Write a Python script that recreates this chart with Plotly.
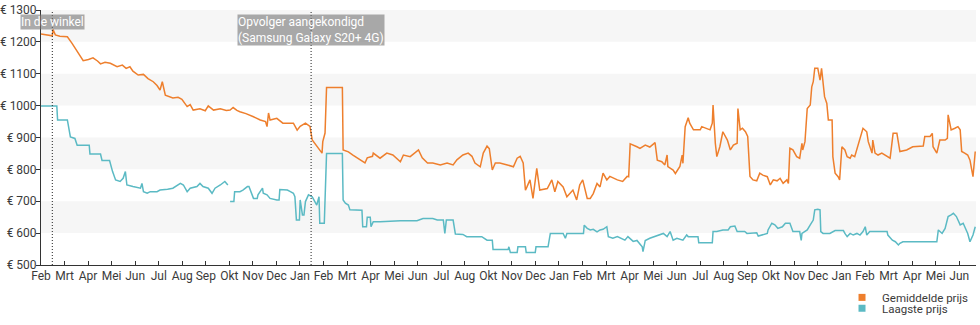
import pandas as pd
import plotly.graph_objects as go

# Time axis: day offsets are counted from this date
START = pd.Timestamp("2020-02-16")
TICK_STEP_DAYS = 31.25
RANGE_DAYS = 1241

tick_labels = [
    "Feb", "Mrt", "Apr", "Mei", "Jun", "Jul", "Aug", "Sep", "Okt", "Nov", "Dec", "Jan",
    "Feb", "Mrt", "Apr", "Mei", "Jun", "Jul", "Aug", "Okt", "Nov", "Dec", "Jan",
    "Feb", "Mrt", "Apr", "Mei", "Jun", "Jul", "Aug", "Sep", "Okt", "Nov", "Dec", "Jan",
    "Feb", "Mrt", "Apr", "Mei", "Jun",
]
price_ticks = [500, 600, 700, 800, 900, 1000, 1100, 1200, 1300]
price_tick_labels = ["€ 500", "€ 600", "€ 700", "€ 800", "€ 900", "€ 1000", "€ 1100", "€ 1200", "€ 1300"]

# Gemiddelde prijs (average price)
avg_days = [
    0, 8, 15, 16, 19, 25, 35, 41, 49, 56, 63, 69, 75, 79, 85, 92, 101, 108, 113, 118,
    122, 129, 136, 142, 149, 154, 158, 161, 165, 171, 175, 182, 187, 194, 198, 202, 211, 218, 222, 229,
    238, 246, 251, 255, 260, 264, 272, 282, 291, 298, 300, 302, 304, 313, 321, 328, 335, 340, 344, 351,
    357, 360, 365, 370, 373, 374, 377, 379, 400, 401, 408, 414, 424, 430, 433, 440, 441, 450, 459, 467,
    477, 481, 490, 497, 501, 506, 513, 520, 530, 539, 547, 552, 560, 567, 572, 576, 583, 587, 592, 595,
    599, 603, 609, 619, 627, 632, 636, 640, 643, 645, 649, 653, 656, 658, 662, 672, 678, 682, 686, 693,
    698, 702, 706, 711, 715, 719, 725, 729, 733, 738, 742, 746, 751, 755, 765, 772, 778, 780, 782, 791,
    795, 802, 808, 815, 818, 824, 828, 831, 832, 839, 842, 848, 851, 852, 855, 859, 861, 866, 875, 877,
    884, 888, 891, 892, 895, 897, 901, 905, 911, 915, 919, 924, 925, 928, 931, 935, 938, 941, 945, 950,
    954, 958, 964, 968, 972, 977, 981, 985, 990, 992, 994, 998, 1003, 1007, 1010, 1011, 1014, 1017, 1021, 1023,
    1025, 1027, 1031, 1034, 1036, 1038, 1040, 1043, 1045, 1050, 1051, 1054, 1058, 1060, 1063, 1067, 1070, 1074, 1076, 1080,
    1083, 1087, 1091, 1096, 1098, 1103, 1104, 1107, 1111, 1116, 1120, 1127, 1131, 1136, 1140, 1149, 1157, 1171, 1173, 1180,
    1183, 1184, 1189, 1193, 1200, 1203, 1204, 1208, 1213, 1217, 1220, 1222, 1226, 1230, 1233, 1237, 1240,
]
avg_price = [
    1225, 1222, 1219, 1239, 1222, 1218, 1216, 1196, 1165, 1141, 1145, 1150, 1140, 1131, 1136, 1133, 1122, 1127, 1117, 1122,
    1108, 1096, 1098, 1085, 1075, 1063, 1049, 1075, 1033, 1028, 1024, 1026, 1020, 997, 1003, 986, 990, 984, 999, 986,
    990, 985, 986, 994, 985, 981, 975, 965, 955, 950, 934, 977, 955, 960, 945, 945, 945, 923, 935, 945,
    935, 892, 875, 860, 851, 887, 914, 1057, 1057, 861, 855, 845, 829, 820, 836, 841, 851, 835, 851, 845,
    824, 845, 840, 855, 861, 836, 820, 820, 814, 820, 814, 830, 845, 851, 841, 820, 808, 851, 873, 865,
    798, 820, 820, 814, 808, 835, 841, 820, 735, 745, 767, 709, 767, 803, 735, 740, 767, 730, 762, 745,
    714, 724, 735, 704, 751, 767, 709, 709, 724, 756, 745, 788, 767, 778, 767, 762, 778, 777, 880, 871,
    866, 876, 870, 884, 829, 824, 814, 845, 809, 798, 787, 809, 845, 819, 934, 962, 945, 924, 924, 934,
    929, 924, 945, 1002, 882, 840, 871, 918, 892, 861, 876, 882, 991, 924, 929, 918, 903, 778, 767, 764,
    788, 782, 777, 751, 767, 764, 772, 756, 767, 756, 866, 861, 840, 835, 882, 861, 887, 991, 1002, 1059,
    1075, 1117, 1117, 1080, 1117, 1075, 1028, 1007, 955, 955, 840, 788, 777, 767, 871, 861, 840, 835, 845, 840,
    866, 892, 929, 918, 887, 851, 892, 851, 845, 851, 845, 835, 913, 913, 856, 861, 871, 873, 903, 903,
    913, 871, 851, 892, 892, 897, 971, 924, 929, 934, 924, 856, 851, 845, 829, 777, 856,
]

# Laagste prijs (lowest price); None marks a gap in the record
low_days = [
    0, 21, 22, 35, 39, 45, 48, 64, 65, 79, 81, 91, 95, 99, 105, 109, 112, 114, 122, 132,
    134, 136, 141, 145, 154, 158, 168, 175, 185, 189, 194, 198, 207, 211, 215, 222, 227, 231, 238, 244,
    248, 249, 251, 256, 257, 264, 268, 274, 276, 282, 287, 288, 294, 295, 300, 304, 313, 316, 317, 327,
    331, 335, 337, 339, 343, 344, 347, 349, 351, 355, 360, 364, 366, 369, 370, 376, 377, 379, 400, 401,
    404, 408, 410, 426, 427, 432, 433, 437, 438, 441, 450, 477, 499, 507, 520, 526, 534, 536, 538, 547,
    550, 560, 565, 585, 592, 599, 600, 620, 621, 623, 632, 633, 643, 644, 656, 657, 673, 676, 693, 696,
    698, 720, 721, 725, 729, 733, 738, 742, 746, 751, 753, 759, 765, 769, 775, 779, 786, 791, 798, 799,
    802, 808, 815, 822, 826, 831, 835, 839, 844, 852, 857, 859, 872, 873, 891, 892, 897, 905, 912, 915,
    921, 924, 934, 937, 950, 952, 958, 964, 965, 970, 974, 978, 984, 988, 994, 998, 1007, 1009, 1010, 1014,
    1017, 1021, 1025, 1027, 1031, 1034, 1035, 1038, 1047, 1054, 1065, 1067, 1070, 1074, 1078, 1083, 1087, 1091, 1094, 1096,
    1100, 1123, 1124, 1130, 1134, 1138, 1140, 1144, 1189, 1191, 1196, 1200, 1204, 1208, 1211, 1215, 1217, 1220, 1224, 1226,
    1230, 1233, 1237, 1240,
]
low_price = [
    999, 999, 955, 955, 902, 897, 876, 876, 848, 848, 828, 828, 793, 767, 762, 772, 793, 751, 746, 741,
    756, 730, 725, 730, 730, 735, 738, 741, 756, 751, 730, 741, 746, 756, 746, 741, 725, 741, 751, 762,
    751, None, 699, 699, 730, 730, 735, 746, 746, 709, 709, 720, 741, 725, 720, 709, 704, 704, 737, 735,
    730, 725, 714, 641, 641, 704, 657, 657, 699, 720, 714, 699, 688, 714, 631, 631, 724, 850, 850, 704,
    694, 688, 673, 672, 620, 620, 650, 650, 620, 636, 636, 639, 639, 646, 646, 641, 641, 599, 641, 641,
    597, 596, 589, 589, 578, 578, 549, 549, 557, 539, 539, 557, 557, 539, 539, 557, 557, 599, 599, 584,
    599, 599, 625, 615, 610, 612, 604, 610, 612, 620, 589, 584, 589, 584, 578, 589, 574, 577, 557, 542,
    577, 584, 589, 594, 599, 589, 605, 578, 584, 578, 594, 589, 589, 570, 570, 605, 605, 610, 610, 620,
    622, 605, 605, 599, 601, 591, 594, 599, 610, 631, 626, 615, 620, 631, 631, 605, 605, 577, 599, 605,
    610, 626, 641, 673, 675, 673, 605, 599, 599, 608, 608, 599, 589, 599, 594, 599, 594, 605, 620, 594,
    605, 605, 594, 578, 573, 563, 568, 573, 573, 610, 599, 615, 652, 657, 662, 652, 641, 626, 631, 620,
    599, 573, 594, 620,
]

# Product events drawn as dotted markers
event_days = [15, 358.5]
event_labels = ["In de winkel", "Opvolger aangekondigd<br>(Samsung Galaxy S20+ 4G)"]
event_label_y = [0.951, 0.9235]

ORANGE = "#ee7f2d"
TEAL = "#5bbac4"
FONT = "Roboto"
TEXT = "#3a3a3a"


def to_dates(days):
    return [START + pd.Timedelta(days=d) for d in days]


fig = go.Figure()

fig.add_trace(go.Scatter(
    x=to_dates(avg_days), y=avg_price, mode="lines",
    line=dict(color=ORANGE, width=1.5), name="Gemiddelde prijs", showlegend=False,
))
fig.add_trace(go.Scatter(
    x=to_dates(low_days), y=low_price, mode="lines", connectgaps=False,
    line=dict(color=TEAL, width=1.5), name="Laagste prijs", showlegend=False,
))

# Square swatches for the legend
fig.add_trace(go.Scatter(
    x=[None], y=[None], mode="markers", name="Gemiddelde prijs",
    marker=dict(symbol="square", size=7, color=ORANGE), legend="legend",
))
fig.add_trace(go.Scatter(
    x=[None], y=[None], mode="markers", name="Laagste prijs",
    marker=dict(symbol="square", size=7, color=TEAL), legend="legend2",
))

# Alternating horizontal bands
shapes = []
for lo in (600, 800, 1000, 1200):
    shapes.append(dict(
        type="rect", xref="paper", x0=0, x1=1, yref="y", y0=lo, y1=lo + 100,
        fillcolor="#f6f6f6", line=dict(width=0), layer="below",
    ))

annotations = []
for d, label, ly in zip(event_days, event_labels, event_label_y):
    when = START + pd.Timedelta(days=d)
    shapes.append(dict(
        type="line", xref="x", x0=when, x1=when, yref="paper", y0=0, y1=1,
        line=dict(color="#222222", width=1, dash="1px,2px"), layer="above",
    ))
    annotations.append(dict(
        x=when, xref="x", y=ly, yref="paper", text=label, showarrow=False,
        xanchor="center", yanchor="middle", align="left",
        font=dict(family=FONT, size=12, color="white"),
        bgcolor="rgba(120,120,120,0.62)", borderpad=0,
    ))

tick_dates = [START + pd.Timedelta(days=TICK_STEP_DAYS * k) for k in range(len(tick_labels))]

legend_style = dict(
    x=0.8567, xanchor="left", yanchor="middle",
    bgcolor="rgba(0,0,0,0)", borderwidth=0, itemwidth=30,
    font=dict(family=FONT, size=11.5, color=TEXT),
)

fig.update_layout(
    width=980, height=325,
    margin=dict(l=41, r=4, t=10, b=60, autoexpand=False),
    paper_bgcolor="white", plot_bgcolor="white",
    font=dict(family=FONT, size=12, color=TEXT),
    shapes=shapes, annotations=annotations,
    xaxis=dict(
        type="date",
        range=[START, START + pd.Timedelta(days=RANGE_DAYS)],
        tickmode="array", tickvals=tick_dates, ticktext=tick_labels,
        ticks="inside", ticklen=4, tickcolor="#333333",
        showline=True, linecolor="#333333", linewidth=1,
        showgrid=False, zeroline=False,
        tickfont=dict(family=FONT, size=12, color=TEXT),
    ),
    yaxis=dict(
        range=[500, 1300],
        tickmode="array", tickvals=price_ticks, ticktext=price_tick_labels,
        ticks="outside", ticklen=4, tickcolor="#333333",
        ticklabelstandoff=-3,
        showline=True, linecolor="#333333", linewidth=1,
        showgrid=False, zeroline=False,
        tickfont=dict(family=FONT, size=12, color=TEXT),
    ),
    legend=dict(legend_style, y=-0.127),
    legend2=dict(legend_style, y=-0.170),
)

fig.write_html("out.html")
